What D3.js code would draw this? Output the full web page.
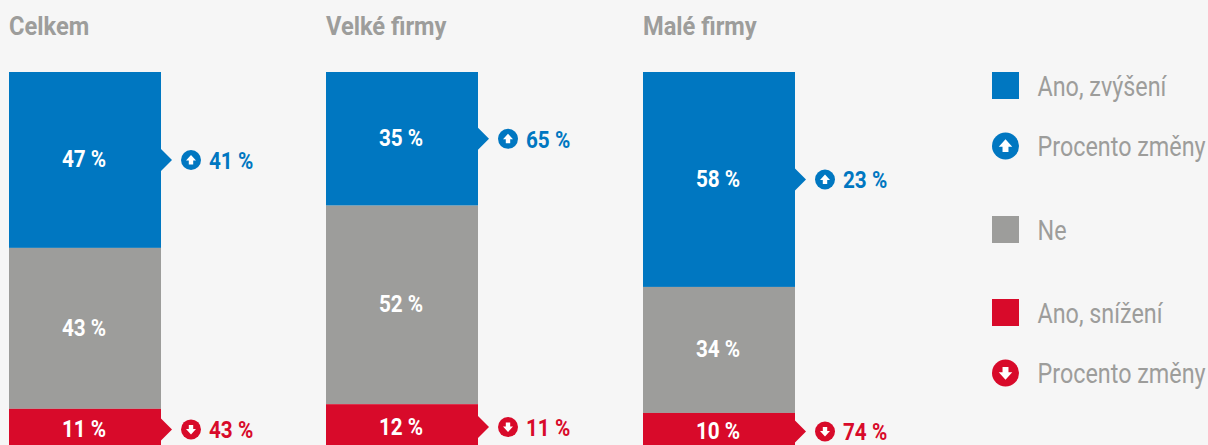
<!DOCTYPE html>
<html>
<head>
<meta charset="utf-8">
<script src="https://cdn.jsdelivr.net/npm/d3@7"></script>
<style>
  html, body { margin: 0; padding: 0; background: #f6f6f6; overflow: hidden; }
  text { font-family: "Roboto", sans-serif; }
</style>
</head>
<body>
<script>
const groups = ["Celkem", "Velké firmy", "Malé firmy"];
const increase = [47, 35, 58];
const unchanged = [43, 52, 34];
const decrease = [11, 12, 10];
const changeUp = [41, 65, 23];
const changeDown = [43, 11, 74];
const legendLabels = ["Ano, zvýšení", "Procento změny", "Ne", "Ano, snížení", "Procento změny"];
const legendKinds = ["rect", "up", "rect", "rect", "down"];

const width = 1208;
const height = 445;
const blue = "#0077c1";
const gray = "#9d9d9b";
const red = "#d80a2a";

const svg = d3.select("body")
  .append("svg")
  .attr("width", width)
  .attr("height", height)
  .style("display", "block");

const table = groups.map((g, i) => ({ group: g, a: increase[i], b: unchanged[i], c: decrease[i] }));
const stacked = d3.stack().keys(["a", "b", "c"]).offset(d3.stackOffsetExpand)(table);

const xScale = d3.scalePoint().domain(groups).range([9, 643]);
const barWidth = 152;
const yScale = d3.scaleLinear().domain([0, 1]).range([72, 450]);
const colors = d3.scaleOrdinal().domain(["a", "b", "c"]).range([blue, gray, red]);

// narrow Roboto stands in for the condensed face
function squeezed(sel, x, y, k) {
  return sel.attr("transform", `translate(${x},${y}) scale(${k},1)`);
}

function arrowIcon(g, cx, cy, r, color, dir) {
  g.append("circle").attr("cx", cx).attr("cy", cy).attr("r", r).attr("fill", color);
  const u = r / 10;
  const pts = [[0, -5], [5, 0.5], [2.2, 0.5], [2.2, 4.5], [-2.2, 4.5], [-2.2, 0.5], [-5, 0.5]];
  g.append("polygon")
    .attr("points", pts.map(p => [cx + p[0] * u, cy + dir * p[1] * u].join(",")).join(" "))
    .attr("fill", "#fff");
}

svg.selectAll(".title")
  .data(groups)
  .enter()
  .append("text")
  .attr("class", "title")
  .text(d => d)
  .attr("font-size", 26)
  .attr("font-weight", 700)
  .attr("fill", gray)
  .each(function (d) { squeezed(d3.select(this), xScale(d), 35, 0.91); });

stacked.forEach(layer => {
  const color = colors(layer.key);
  layer.forEach((seg, i) => {
    const x = xScale(groups[i]);
    const y0 = yScale(seg[0]);
    const y1 = yScale(seg[1]);
    const mid = (y0 + y1) / 2;
    svg.append("rect")
      .attr("x", x)
      .attr("y", y0)
      .attr("width", barWidth)
      .attr("height", y1 - y0)
      .attr("fill", color);
    squeezed(svg.append("text"), x + barWidth / 2 - 1, mid + 7.5, 0.9)
      .text(seg.data[layer.key] + " %")
      .attr("text-anchor", "middle")
      .attr("font-size", 23)
      .attr("font-weight", 700)
      .attr("fill", "#fff");

    if (layer.key === "b") return;
    const right = x + barWidth;
    const up = layer.key === "a";
    svg.append("polygon")
      .attr("points", [[right, mid - 11], [right + 11, mid], [right, mid + 11]].join(" "))
      .attr("fill", color);
    arrowIcon(svg.append("g"), right + 30, mid, 10, color, up ? 1 : -1);
    squeezed(svg.append("text"), right + 48, mid + 9, 0.9)
      .text((up ? changeUp[i] : changeDown[i]) + " %")
      .attr("font-size", 23)
      .attr("font-weight", 700)
      .attr("fill", color);
  });
});

// legend
const legendY = [85.5, 146, 229.5, 312.5, 373];
const legendColors = [blue, blue, gray, red, red];
legendLabels.forEach((label, i) => {
  const cy = legendY[i];
  if (legendKinds[i] === "rect") {
    svg.append("rect")
      .attr("x", 992).attr("y", cy - 13.5)
      .attr("width", 27).attr("height", 27)
      .attr("fill", legendColors[i]);
  } else {
    arrowIcon(svg.append("g"), 1005.5, cy, 13.5, legendColors[i], legendKinds[i] === "up" ? 1 : -1);
  }
  squeezed(svg.append("text"), 1037.5, cy + 10, 0.865)
    .text(label)
    .attr("font-size", 27)
    .attr("font-weight", 400)
    .attr("fill", "#9d9d9b");
});
</script>
</body>
</html>
